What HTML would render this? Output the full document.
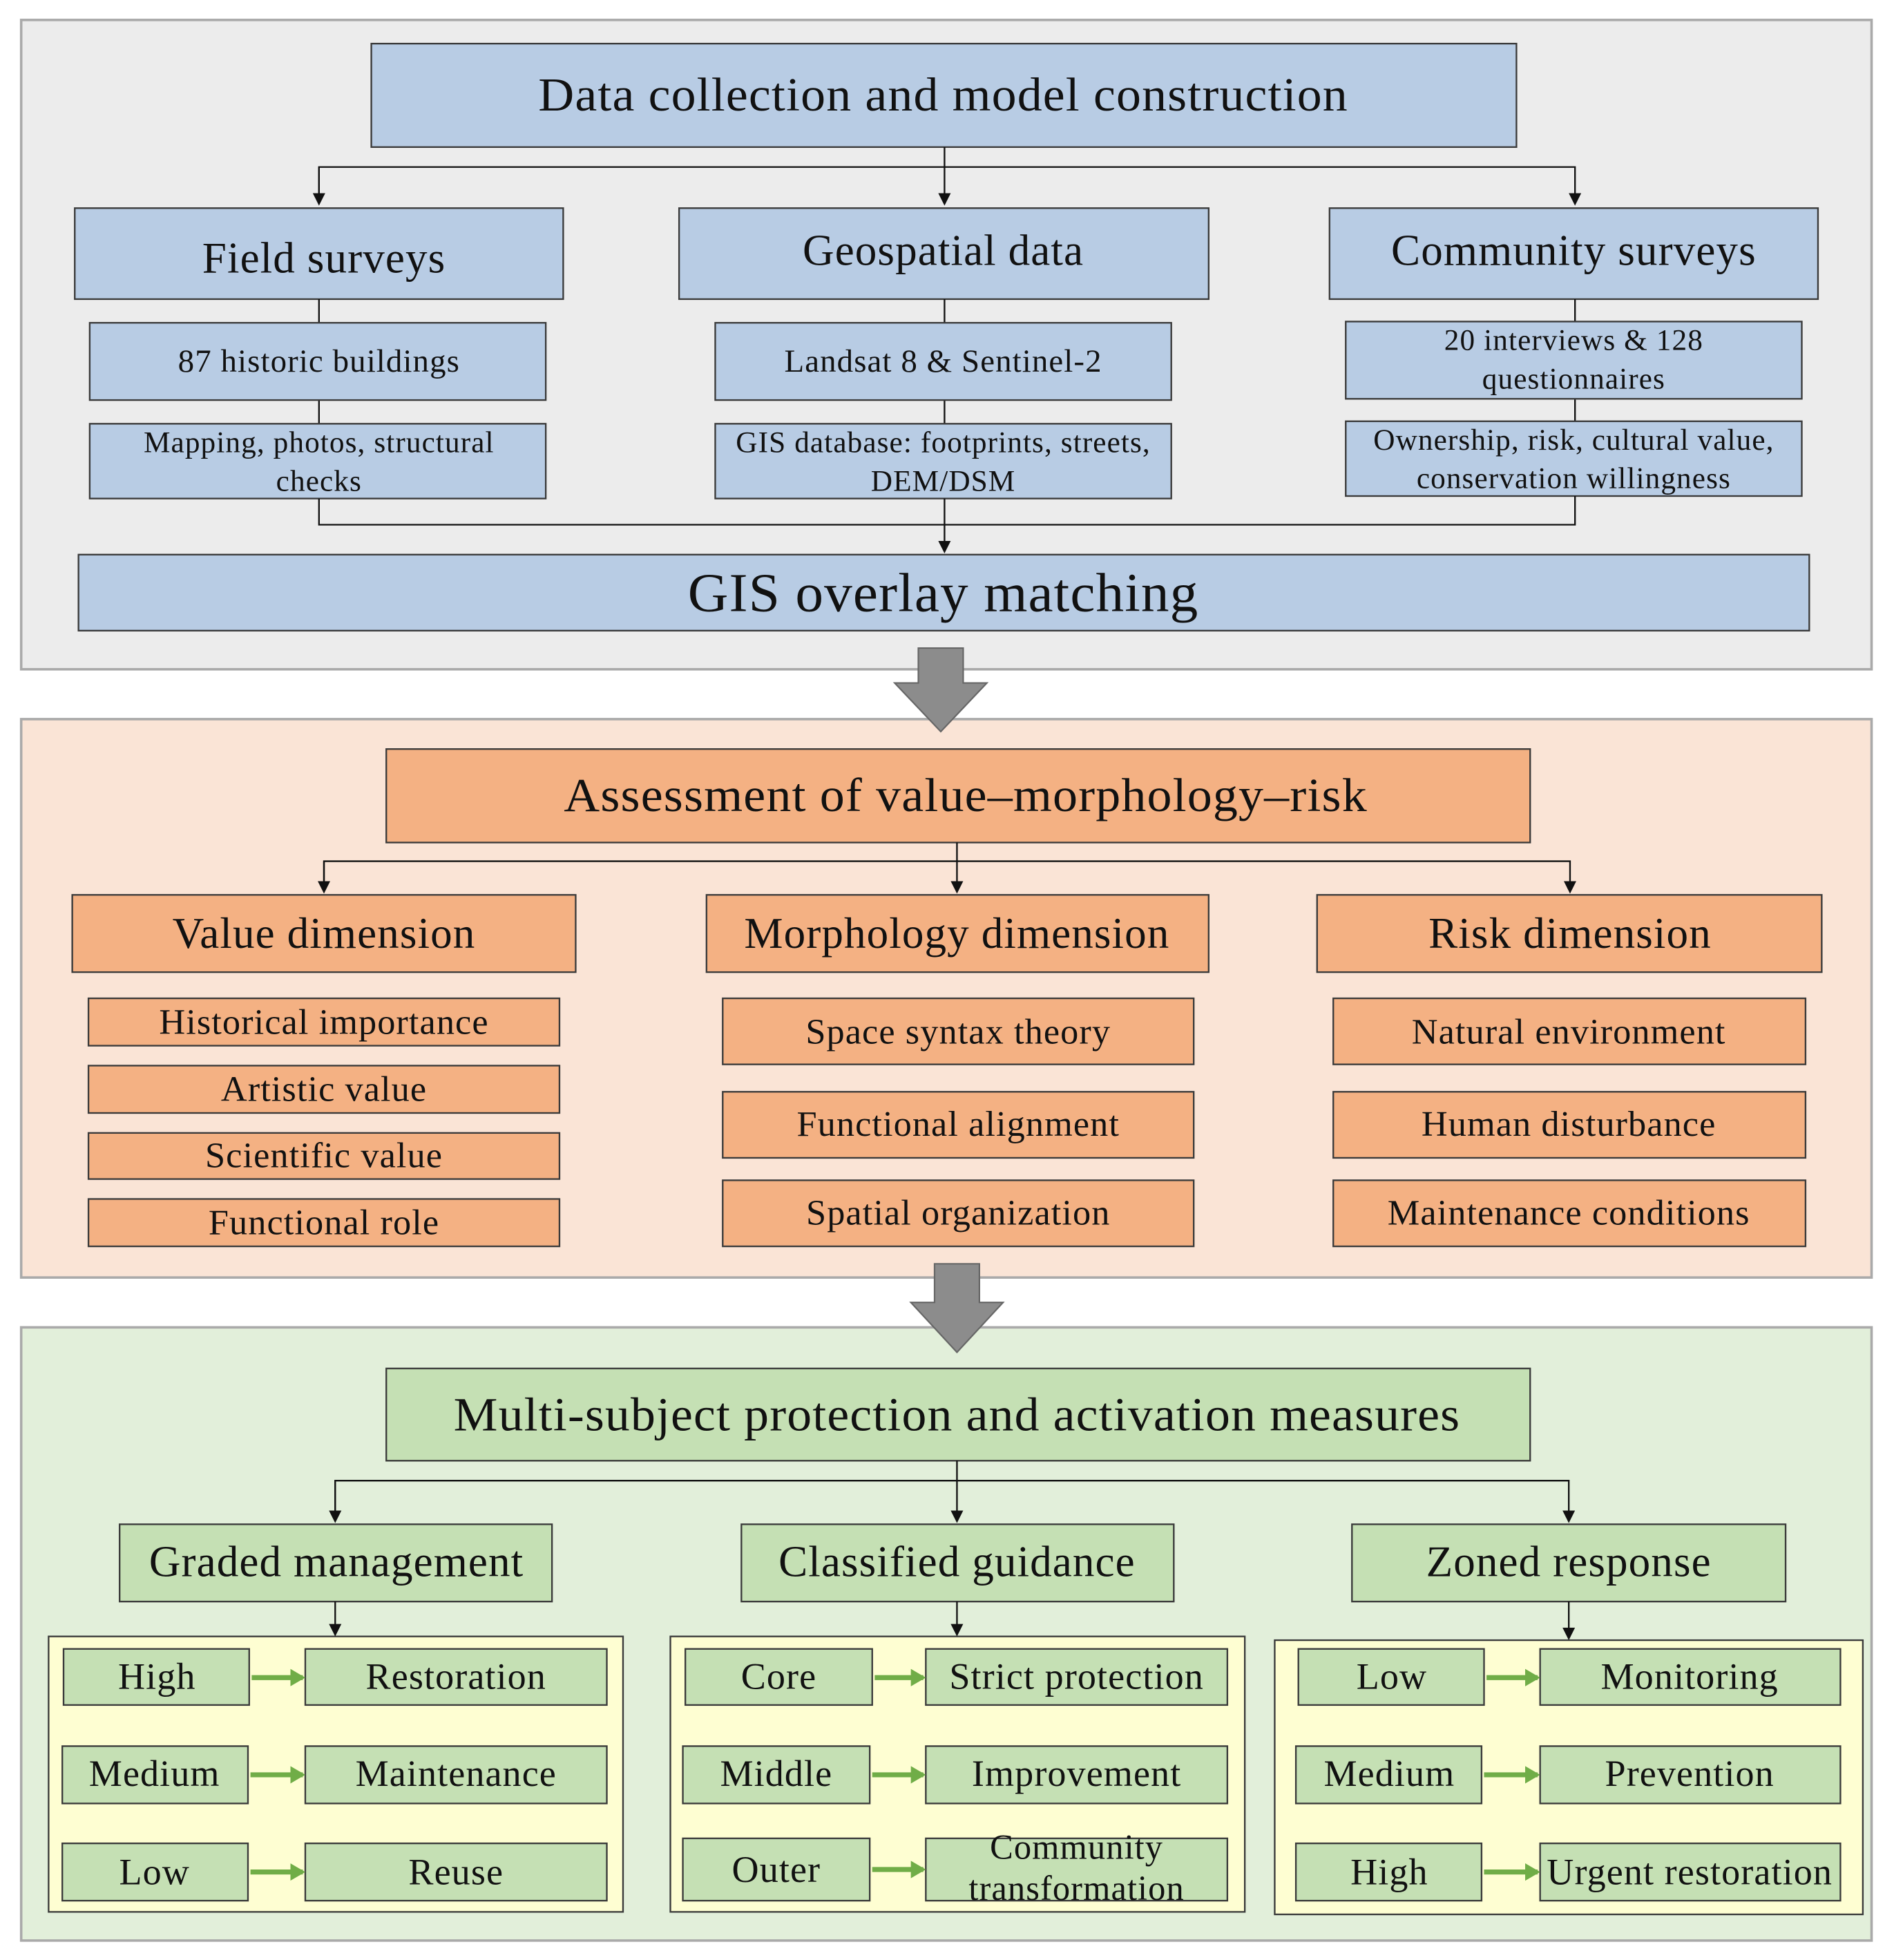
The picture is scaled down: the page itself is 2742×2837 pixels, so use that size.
<!DOCTYPE html>
<html><head><meta charset="utf-8"><style>
html,body{margin:0;padding:0;background:#fff}
svg{display:block}
text{font-family:"Liberation Serif",serif;fill:#111;text-anchor:middle;dominant-baseline:central;letter-spacing:0.6px}
.b{fill:#b8cce4;stroke:#3a3a3a;stroke-width:1.3}
.o{fill:#f4b183;stroke:#3a3a3a;stroke-width:1.3}
.g{fill:#c5e0b4;stroke:#3a3a3a;stroke-width:1.3}
.y{fill:#fefed2;stroke:#3a3a3a;stroke-width:1.3}
.l{stroke:#111;stroke-width:1.3;fill:none}
.ga{stroke:#70ad47;stroke-width:4;fill:none}
</style></head><body>
<svg width="2742" height="2837" viewBox="0 0 1520 1572.6" preserveAspectRatio="none" xmlns="http://www.w3.org/2000/svg">
<defs>
<marker id="a" markerWidth="10" markerHeight="10" refX="8" refY="5" orient="auto" markerUnits="userSpaceOnUse"><path d="M0,0 L10,5 L0,10 z" fill="#111"/></marker>
<marker id="ag" markerWidth="12" markerHeight="14" refX="10" refY="7" orient="auto" markerUnits="userSpaceOnUse"><path d="M0,0 L12,7 L0,14 z" fill="#70ad47"/></marker>
</defs>
<!-- Panel 1 -->
<rect x="17" y="16" width="1485" height="521" fill="#ececec" stroke="#aaa" stroke-width="2"/>
<rect class="b" x="298" y="35" width="919" height="83"/>
<text x="757" y="76" font-size="38" textLength="650" lengthAdjust="spacingAndGlyphs">Data collection and model construction</text>
<path class="l" d="M758,118 V163" marker-end="url(#a)"/>
<path class="l" d="M256,163 V134 H1264 V163" marker-end="url(#a)"/>
<path class="l" d="M256,134 V163" marker-end="url(#a)"/>
<rect class="b" x="60" y="167" width="392" height="73"/>
<text x="260" y="207" font-size="35">Field surveys</text>
<rect class="b" x="545" y="167" width="425" height="73"/>
<text x="757" y="201" font-size="35">Geospatial data</text>
<rect class="b" x="1067" y="167" width="392" height="73"/>
<text x="1263" y="201" font-size="35">Community surveys</text>
<path class="l" d="M256,240 V259 M256,321 V340 M758,240 V259 M758,321 V340 M1264,240 V258 M1264,320 V338"/>
<rect class="b" x="72" y="259" width="366" height="62"/>
<text x="256" y="290" font-size="26">87 historic buildings</text>
<rect class="b" x="574" y="259" width="366" height="62"/>
<text x="757" y="290" font-size="26">Landsat 8 &amp; Sentinel-2</text>
<rect class="b" x="1080" y="258" width="366" height="62"/>
<text x="1263" y="273" font-size="24">20 interviews &amp; 128</text>
<text x="1263" y="304" font-size="24">questionnaires</text>
<rect class="b" x="72" y="340" width="366" height="60"/>
<text x="256" y="355" font-size="24">Mapping, photos, structural</text>
<text x="256" y="386" font-size="24">checks</text>
<rect class="b" x="574" y="340" width="366" height="60"/>
<text x="757" y="355" font-size="24">GIS database: footprints, streets,</text>
<text x="757" y="386" font-size="24">DEM/DSM</text>
<rect class="b" x="1080" y="338" width="366" height="60"/>
<text x="1263" y="353" font-size="24">Ownership, risk, cultural value,</text>
<text x="1263" y="384" font-size="24">conservation willingness</text>
<path class="l" d="M256,400 V421 H1264 V398"/>
<path class="l" d="M758,400 V442" marker-end="url(#a)"/>
<rect class="b" x="63" y="445" width="1389" height="61"/>
<text x="757" y="476" font-size="44" textLength="410" lengthAdjust="spacingAndGlyphs">GIS overlay matching</text>
<!-- Panel 2 -->
<rect x="17" y="577" width="1485" height="448" fill="#fae4d6" stroke="#aaa" stroke-width="2"/>
<!-- big arrow 1 -->
<path d="M737,520 H773 V548 H792 L755,587 L718,548 H737 Z" fill="#8c8c8c" stroke="#666" stroke-width="1.2"/>
<rect class="o" x="310" y="601" width="918" height="75"/>
<text x="775" y="638" font-size="38" textLength="645" lengthAdjust="spacingAndGlyphs">Assessment of value–morphology–risk</text>
<path class="l" d="M768,676 V715" marker-end="url(#a)"/>
<path class="l" d="M260,715 V691 H1260 V715" marker-end="url(#a)"/>
<path class="l" d="M260,691 V715" marker-end="url(#a)"/>
<rect class="o" x="58" y="718" width="404" height="62"/>
<text x="260" y="749" font-size="35">Value dimension</text>
<rect class="o" x="567" y="718" width="403" height="62"/>
<text x="768" y="749" font-size="35">Morphology dimension</text>
<rect class="o" x="1057" y="718" width="405" height="62"/>
<text x="1260" y="749" font-size="35">Risk dimension</text>
<g font-size="29">
<rect class="o" x="71" y="801" width="378" height="38"/><text x="260" y="820">Historical importance</text>
<rect class="o" x="71" y="855" width="378" height="38"/><text x="260" y="874">Artistic value</text>
<rect class="o" x="71" y="909" width="378" height="37"/><text x="260" y="927">Scientific value</text>
<rect class="o" x="71" y="962" width="378" height="38"/><text x="260" y="981">Functional role</text>
<rect class="o" x="580" y="801" width="378" height="53"/><text x="769" y="828">Space syntax theory</text>
<rect class="o" x="580" y="876" width="378" height="53"/><text x="769" y="902">Functional alignment</text>
<rect class="o" x="580" y="947" width="378" height="53"/><text x="769" y="973">Spatial organization</text>
<rect class="o" x="1070" y="801" width="379" height="53"/><text x="1259" y="828">Natural environment</text>
<rect class="o" x="1070" y="876" width="379" height="53"/><text x="1259" y="902">Human disturbance</text>
<rect class="o" x="1070" y="947" width="379" height="53"/><text x="1259" y="973">Maintenance conditions</text>
</g>
<!-- Panel 3 -->
<rect x="17" y="1065" width="1485" height="492" fill="#e2efda" stroke="#aaa" stroke-width="2"/>
<!-- big arrow 2 -->
<path d="M750,1014 H786 V1045 H805 L768,1085 L731,1045 H750 Z" fill="#8c8c8c" stroke="#666" stroke-width="1.2"/>
<rect class="g" x="310" y="1098" width="918" height="74"/>
<text x="768" y="1135" font-size="38" textLength="808" lengthAdjust="spacingAndGlyphs">Multi-subject protection and activation measures</text>
<path class="l" d="M768,1172 V1220" marker-end="url(#a)"/>
<path class="l" d="M269,1220 V1188 H1259 V1220" marker-end="url(#a)"/>
<path class="l" d="M269,1188 V1220" marker-end="url(#a)"/>
<rect class="g" x="96" y="1223" width="347" height="62"/><text x="270" y="1253" font-size="35">Graded management</text>
<rect class="g" x="595" y="1223" width="347" height="62"/><text x="768" y="1253" font-size="35">Classified guidance</text>
<rect class="g" x="1085" y="1223" width="348" height="62"/><text x="1259" y="1253" font-size="35">Zoned response</text>
<rect class="y" x="39" y="1313" width="461" height="221"/>
<rect class="y" x="538" y="1313" width="461" height="221"/>
<rect class="y" x="1023" y="1316" width="472" height="220"/>
<path class="l" d="M269,1285 V1311" marker-end="url(#a)"/>
<path class="l" d="M768,1285 V1311" marker-end="url(#a)"/>
<path class="l" d="M1259,1285 V1314" marker-end="url(#a)"/>
<g font-size="30">
<rect class="g" x="51" y="1323" width="149" height="45"/><text x="126" y="1345">High</text>
<rect class="g" x="245" y="1323" width="242" height="45"/><text x="366" y="1345">Restoration</text>
<rect class="g" x="50" y="1401" width="149" height="46"/><text x="124" y="1423">Medium</text>
<rect class="g" x="245" y="1401" width="242" height="46"/><text x="366" y="1423">Maintenance</text>
<rect class="g" x="50" y="1479" width="149" height="46"/><text x="124" y="1502">Low</text>
<rect class="g" x="245" y="1479" width="242" height="46"/><text x="366" y="1502">Reuse</text>
<rect class="g" x="550" y="1323" width="150" height="45"/><text x="625" y="1345">Core</text>
<rect class="g" x="743" y="1323" width="242" height="45"/><text x="864" y="1345">Strict protection</text>
<rect class="g" x="548" y="1401" width="150" height="46"/><text x="623" y="1423">Middle</text>
<rect class="g" x="743" y="1401" width="242" height="46"/><text x="864" y="1423">Improvement</text>
<rect class="g" x="548" y="1475" width="150" height="50"/><text x="623" y="1500">Outer</text>
<rect class="g" x="743" y="1475" width="242" height="50"/><text x="864" y="1482" font-size="28">Community</text><text x="864" y="1515" font-size="28">transformation</text>
<rect class="g" x="1042" y="1323" width="149" height="45"/><text x="1117" y="1345">Low</text>
<rect class="g" x="1236" y="1323" width="241" height="45"/><text x="1356" y="1345">Monitoring</text>
<rect class="g" x="1040" y="1401" width="149" height="46"/><text x="1115" y="1423">Medium</text>
<rect class="g" x="1236" y="1401" width="241" height="46"/><text x="1356" y="1423">Prevention</text>
<rect class="g" x="1040" y="1479" width="149" height="46"/><text x="1115" y="1502">High</text>
<rect class="g" x="1236" y="1479" width="241" height="46"/><text x="1356" y="1502">Urgent restoration</text>
</g>
<path class="ga" d="M202,1346 H243" marker-end="url(#ag)"/>
<path class="ga" d="M201,1424 H243" marker-end="url(#ag)"/>
<path class="ga" d="M201,1502 H243" marker-end="url(#ag)"/>
<path class="ga" d="M702,1346 H741" marker-end="url(#ag)"/>
<path class="ga" d="M700,1424 H741" marker-end="url(#ag)"/>
<path class="ga" d="M700,1500 H741" marker-end="url(#ag)"/>
<path class="ga" d="M1193,1346 H1234" marker-end="url(#ag)"/>
<path class="ga" d="M1191,1424 H1234" marker-end="url(#ag)"/>
<path class="ga" d="M1191,1502 H1234" marker-end="url(#ag)"/>
</svg>
</body></html>
